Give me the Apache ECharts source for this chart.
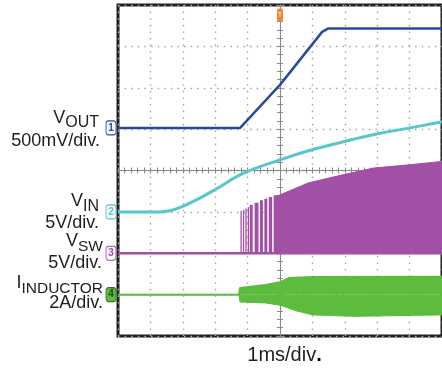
<!DOCTYPE html>
<html><head><meta charset="utf-8">
<script src="https://cdn.jsdelivr.net/npm/echarts@6/dist/echarts.min.js"></script>
<style>html,body{margin:0;padding:0;background:#fff}#c{width:442px;height:369px}</style>
</head><body><div id="c"></div>
<script>
// ---- time axis: ms, trigger at 0, 1 ms/div ----
const timeMin = -5, timeMax = 5, timeStep = 1;
const divMin = -4, divMax = 4;

// ---- VOUT (V), 500 mV/div ----
const voutT = [-5, -1.23, 0.0, 1.30, 1.48, 5];
const voutV = [0, 0, 0.52, 1.16, 1.20, 1.20];

// ---- VIN (V), 5 V/div ----
const vinT = [-5, -3.73, -3.43, -3.04, -2.53, -2.02, -1.11, -0.03, 0.99, 1.99, 2.98, 4.01, 4.76, 5];
const vinV = [0, 0, 0.1, 0.6, 1.55, 2.65, 4.7, 6.25, 7.5, 8.5, 9.4, 10.15, 10.7, 10.9];

// ---- VSW (V), 5 V/div ----
const vswBaseT = [-5, -0.03];
const vswBaseV = [0, 0];
const vswBurstStart = [-1.22, -1.145, -1.07, -0.995, -0.934, -0.783, -0.617, -0.482, -0.346, -0.196];
const vswBurstEnd   = [-1.205, -1.13, -1.055, -0.98, -0.843, -0.663, -0.527, -0.392, -0.241, -0.03];
const vswBurstTop   = [5.1, 5.25, 5.4, 5.6, 5.85, 6.1, 6.4, 6.6, 6.8, 7.0];
const vswEnvT = [-0.03, -0.03, 0.87, 1.90, 2.89, 3.89, 4.76, 5];
const vswEnvV = [-0.15, 7.0, 8.5, 9.45, 10.3, 10.65, 11.0, 11.1];
const vswFloor = -0.15;

// ---- IINDUCTOR (A), 2 A/div ----
const ilTopT = [-5, -1.265, -1.235, -0.45, 0.03, 0.27, 1.02, 5];
const ilTopV = [0, 0, 0.32, 0.47, 0.61, 0.80, 0.85, 0.87];
const ilBotT = [-1.265, -1.235, -0.45, 0.03, 0.54, 1.02, 2.3, 5];
const ilBotV = [0, -0.36, -0.40, -0.52, -0.80, -0.98, -1.05, -0.98];

// ---- channel settings ----
const chScale  = {vout: 0.5, vin: 5, vsw: 5, il: 2};
const chOffset = {vout: 1.03, vin: -1, vsw: -2, il: -3};
const chColor  = {vout: '#2a4a9c', vin: '#55c7cd', vsw: '#a24fa6', il: '#5dbb3e'};
const chNum    = {vout: '1', vin: '2', vsw: '3', il: '4'};

const toDiv = (ch, v) => chOffset[ch] + v / chScale[ch];
const pairs = (ch, T, V) => T.map((t, i) => [t, toDiv(ch, V[i])]);

const FONT = '"Liberation Sans", Arial, sans-serif';

function chMarker(ch, filled) {
  return {
    symbol: 'roundRect', silent: true, animation: false,
    data: [{
      coord: [timeMin, chOffset[ch]],
      symbol: 'roundRect', symbolSize: [10, 14], symbolOffset: [-7, 0],
      itemStyle: filled ? {color: chColor[ch], borderColor: '#2f7a25', borderWidth: 1}
                        : {color: '#f6f6fb', borderColor: chColor[ch], borderWidth: 1},
      label: {show: true, formatter: chNum[ch], color: filled ? '#1d4d17' : chColor[ch],
              fontSize: 10, fontFamily: FONT, fontWeight: 'bold'}
    }]
  };
}

const burstData = vswBurstStart.map((s, i) => [s, vswBurstEnd[i], toDiv('vsw', vswBurstTop[i])]);

const chart = echarts.init(document.getElementById('c'), null, {renderer: 'canvas'});

const axisCommonX = {
  type: 'value', min: timeMin, max: timeMax, interval: timeStep,
  axisLabel: {show: false},
  axisLine: {show: true, onZero: true, lineStyle: {color: '#8a8a8a', width: 1}},
  axisTick: {show: true, length: 3, lineStyle: {color: '#8a8a8a'}},
  minorTick: {show: true, splitNumber: 5, length: 3, lineStyle: {color: '#8a8a8a'}}
};
const axisCommonY = {
  type: 'value', min: divMin, max: divMax, interval: 1,
  axisLabel: {show: false},
  axisLine: {show: true, onZero: true, lineStyle: {color: '#8a8a8a', width: 1}},
  axisTick: {show: true, length: 3, lineStyle: {color: '#8a8a8a'}},
  minorTick: {show: true, splitNumber: 5, length: 3, lineStyle: {color: '#8a8a8a'}}
};
const gridDots = {show: true, lineStyle: {color: '#aaaaaa', type: [1.6, 5], width: 1.4}};

const option = {
  animation: false,
  backgroundColor: '#fff',
  grid: {left: 118, top: 5, right: -8, bottom: 33, show: true,
         borderColor: '#1e1e1e', borderWidth: 3, backgroundColor: 'transparent'},
  xAxis: [
    Object.assign({}, axisCommonX, {position: 'bottom', splitLine: gridDots}),
    Object.assign({}, axisCommonX, {position: 'top', splitLine: {show: false}})
  ],
  yAxis: [
    Object.assign({}, axisCommonY, {position: 'left', splitLine: gridDots}),
    Object.assign({}, axisCommonY, {position: 'right', splitLine: {show: false}})
  ],
  series: [
    { // inductor current, upper envelope
      type: 'line', data: pairs('il', ilTopT, ilTopV), showSymbol: false,
      lineStyle: {color: chColor.il, width: 2},
      areaStyle: {color: chColor.il, opacity: 1, origin: chOffset.il},
      markPoint: chMarker('il', true), z: 2
    },
    { // inductor current, lower envelope
      type: 'line', data: pairs('il', ilBotT, ilBotV), showSymbol: false,
      lineStyle: {color: chColor.il, width: 1},
      areaStyle: {color: chColor.il, opacity: 1, origin: chOffset.il}, z: 2
    },
    { // VSW baseline
      type: 'line', data: pairs('vsw', vswBaseT, vswBaseV), showSymbol: false,
      lineStyle: {color: chColor.vsw, width: 2.5},
      markPoint: chMarker('vsw', false), z: 3
    },
    { // VSW first switching bursts
      type: 'custom', data: burstData, encode: {x: [0, 1], y: 2}, z: 3,
      renderItem: function (params, api) {
        const p0 = api.coord([api.value(0), api.value(2)]);
        const p1 = api.coord([api.value(1), chOffset.vsw]);
        const w = Math.max(p1[0] - p0[0], 1.3);
        return {type: 'rect', shape: {x: p0[0], y: p0[1], width: w, height: p1[1] - p0[1]},
                style: {fill: chColor.vsw}};
      }
    },
    { // VSW continuous switching envelope
      type: 'line', data: pairs('vsw', vswEnvT, vswEnvV), showSymbol: false,
      lineStyle: {color: chColor.vsw, width: 1},
      areaStyle: {color: chColor.vsw, opacity: 1, origin: toDiv('vsw', vswFloor)}, z: 3
    },
    { // VIN
      type: 'line', data: pairs('vin', vinT, vinV), showSymbol: false, smooth: 0.4,
      lineStyle: {color: chColor.vin, width: 3},
      markPoint: chMarker('vin', false), z: 4
    },
    { // VOUT
      type: 'line', data: pairs('vout', voutT, voutV), showSymbol: false,
      lineStyle: {color: chColor.vout, width: 2.5},
      markPoint: {
        silent: true, animation: false,
        data: [
          chMarker('vout', false).data[0],
          {coord: [0, divMax], symbol: 'roundRect', symbolSize: [6, 13], symbolOffset: [0, 10],
           itemStyle: {color: '#ee8636'},
           label: {show: true, formatter: 'T', color: '#fff3e0', fontSize: 8, fontFamily: FONT}}
        ]
      }, z: 5
    }
  ],
  graphic: [
    {type: 'text', x: 99, y: 118, style: {text: '{a|V}{b|OUT}', align: 'right', verticalAlign: 'middle', fill: '#1e1e1e',
      rich: {a: {fontSize: 18, fontFamily: FONT, fill: '#1e1e1e'}, b: {fontSize: 16, fontFamily: FONT, fill: '#1e1e1e', padding: [10, 0, 0, 0]}}}},
    {type: 'text', x: 100, y: 141, style: {text: '500mV/div.', align: 'right', verticalAlign: 'middle', fill: '#1e1e1e', font: '18px ' + FONT}},
    {type: 'text', x: 99, y: 201.5, style: {text: '{a|V}{b|IN}', align: 'right', verticalAlign: 'middle', fill: '#1e1e1e',
      rich: {a: {fontSize: 18, fontFamily: FONT, fill: '#1e1e1e'}, b: {fontSize: 16, fontFamily: FONT, fill: '#1e1e1e', padding: [10, 0, 0, 0]}}}},
    {type: 'text', x: 99, y: 223.5, style: {text: '5V/div.', align: 'right', verticalAlign: 'middle', fill: '#1e1e1e', font: '18px ' + FONT}},
    {type: 'text', x: 103, y: 241.5, style: {text: '{a|V}{b|SW}', align: 'right', verticalAlign: 'middle', fill: '#1e1e1e',
      rich: {a: {fontSize: 18, fontFamily: FONT, fill: '#1e1e1e'}, b: {fontSize: 15.5, fontFamily: FONT, fill: '#1e1e1e', padding: [10, 0, 0, 0]}}}},
    {type: 'text', x: 102, y: 263.5, style: {text: '5V/div.', align: 'right', verticalAlign: 'middle', fill: '#1e1e1e', font: '18px ' + FONT}},
    {type: 'text', x: 103, y: 283.5, style: {text: '{a|I}{b|INDUCTOR}', align: 'right', verticalAlign: 'middle', fill: '#1e1e1e',
      rich: {a: {fontSize: 18, fontFamily: FONT, fill: '#1e1e1e'}, b: {fontSize: 15.5, fontFamily: FONT, fill: '#1e1e1e', padding: [10, 0, 0, 0]}}}},
    {type: 'text', x: 103, y: 303.5, style: {text: '2A/div.', align: 'right', verticalAlign: 'middle', fill: '#1e1e1e', font: '18px ' + FONT}},
    {type: 'text', x: 284.5, y: 355, style: {text: '{a|1ms/div}{b|.}', align: 'center', verticalAlign: 'middle', fill: '#1e1e1e',
      rich: {a: {fontSize: 20, fontFamily: FONT, fill: '#1e1e1e'}, b: {fontSize: 20, fontFamily: FONT, fontWeight: 'bold', fill: '#000'}}}}
  ]
};
chart.setOption(option);
</script></body></html>
